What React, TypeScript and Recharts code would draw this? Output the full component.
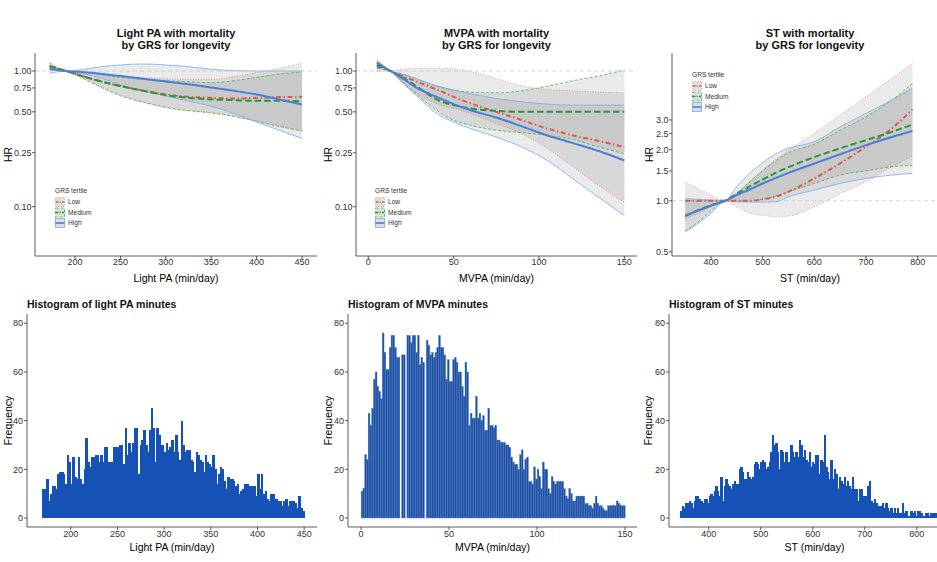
import React from 'react';
import { ComposedChart, BarChart, Bar, Line, Area, XAxis, YAxis, ReferenceLine, Legend } from 'recharts';

const FONT = '"Liberation Sans", Arial, Helvetica, sans-serif';

// ---- light PA spline, HR by GRS tertile ----
const lpaX = [172, 190, 210, 230, 250, 275, 300, 325, 350, 375, 400, 425, 450];
const lpaLow = [1.08, 1.0, 0.908, 0.834, 0.774, 0.715, 0.671, 0.645, 0.634, 0.627, 0.634, 0.642, 0.645];
const lpaLowLo = [1.01, 1.0, 0.882, 0.757, 0.664, 0.593, 0.535, 0.51, 0.494, 0.465, 0.43, 0.392, 0.361];
const lpaLowHi = [1.14, 1.0, 0.99, 0.95, 0.918, 0.892, 0.877, 0.867, 0.867, 0.908, 0.972, 1.046, 1.14];
const lpaMed = [1.09, 1.0, 0.908, 0.834, 0.774, 0.715, 0.664, 0.634, 0.617, 0.61, 0.603, 0.603, 0.596];
const lpaMedLo = [1.02, 1.0, 0.872, 0.75, 0.656, 0.589, 0.54, 0.51, 0.49, 0.462, 0.425, 0.39, 0.362];
const lpaMedHi = [1.153, 1.0, 0.983, 0.934, 0.898, 0.867, 0.848, 0.834, 0.82, 0.848, 0.898, 0.95, 0.983];
const lpaHigh = [1.04, 1.0, 0.977, 0.95, 0.918, 0.877, 0.838, 0.797, 0.757, 0.715, 0.671, 0.617, 0.567];
const lpaHighLo = [0.96, 1.0, 0.95, 0.882, 0.788, 0.715, 0.653, 0.6, 0.55, 0.486, 0.421, 0.366, 0.318];
const lpaHighHi = [1.1, 1.0, 1.03, 1.077, 1.108, 1.127, 1.108, 1.077, 1.03, 1.006, 1.0, 1.0, 1.0];

// ---- MVPA spline ----
const mvpaX = [5, 13, 20, 30, 40, 50, 60, 75, 90, 105, 120, 135, 150];
const mvpaLow = [1.08, 1.0, 0.918, 0.82, 0.731, 0.645, 0.576, 0.5, 0.434, 0.376, 0.335, 0.305, 0.275];
const mvpaLowLo = [0.99, 1.0, 0.81, 0.664, 0.576, 0.529, 0.486, 0.41, 0.345, 0.268, 0.196, 0.143, 0.108];
const mvpaLowHi = [1.15, 1.0, 1.03, 1.046, 1.05, 1.035, 0.99, 0.88, 0.774, 0.731, 0.715, 0.699, 0.69];
const mvpaMed = [1.11, 1.0, 0.898, 0.744, 0.617, 0.56, 0.529, 0.508, 0.5, 0.5, 0.5, 0.5, 0.5];
const mvpaMedLo = [1.04, 1.0, 0.834, 0.645, 0.514, 0.434, 0.398, 0.366, 0.351, 0.335, 0.312, 0.275, 0.246];
const mvpaMedHi = [1.17, 1.0, 0.95, 0.858, 0.774, 0.723, 0.699, 0.69, 0.715, 0.774, 0.848, 0.918, 1.017];
const mvpaHigh = [1.153, 1.0, 0.882, 0.731, 0.645, 0.57, 0.514, 0.454, 0.391, 0.335, 0.294, 0.257, 0.219];
const mvpaHighLo = [1.08, 1.0, 0.82, 0.627, 0.486, 0.421, 0.376, 0.326, 0.275, 0.219, 0.16, 0.117, 0.086];
const mvpaHighHi = [1.22, 1.0, 0.95, 0.858, 0.78, 0.723, 0.68, 0.627, 0.593, 0.57, 0.56, 0.56, 0.56];

// ---- ST spline ----
const stX = [350, 375, 400, 427, 450, 475, 500, 525, 550, 600, 650, 700, 750, 790];
const stLow = [1.0, 1.0, 1.0, 1.0, 1.0, 1.0, 1.02, 1.056, 1.13, 1.355, 1.662, 2.085, 2.67, 3.46];
const stLowLo = [0.78, 0.845, 0.92, 1.0, 0.922, 0.849, 0.823, 0.804, 0.812, 0.922, 1.105, 1.295, 1.588, 1.835];
const stLowHi = [1.28, 1.183, 1.08, 1.0, 1.105, 1.295, 1.517, 1.754, 1.99, 2.5, 3.2, 4.1, 5.28, 6.45];
const stMed = [0.812, 0.881, 0.939, 1.0, 1.1, 1.215, 1.335, 1.46, 1.58, 1.81, 2.04, 2.28, 2.55, 2.82];
const stMedLo = [0.66, 0.75, 0.87, 1.0, 1.0, 1.0, 1.02, 1.065, 1.13, 1.266, 1.418, 1.503, 1.588, 1.62];
const stMedHi = [1.0, 1.0, 1.0, 1.0, 1.115, 1.295, 1.503, 1.723, 1.92, 2.16, 2.61, 3.13, 3.93, 4.93];
const stHigh = [0.82, 0.875, 0.935, 1.0, 1.08, 1.165, 1.265, 1.36, 1.46, 1.66, 1.88, 2.13, 2.38, 2.58];
const stHighLo = [0.656, 0.735, 0.842, 1.0, 0.986, 0.982, 0.982, 0.986, 1.056, 1.156, 1.266, 1.355, 1.418, 1.45];
const stHighHi = [1.03, 1.02, 1.01, 1.0, 1.21, 1.45, 1.676, 1.886, 2.04, 2.23, 2.73, 3.28, 3.93, 4.61];

const hrTicks = [0.1, 0.25, 0.5, 0.75, 1.0];
const stHrTicks = [0.5, 1.0, 1.5, 2.0, 2.5, 3.0];
const lpaTicks = [200, 250, 300, 350, 400, 450];
const mvpaTicks = [0, 50, 100, 150];
const stTicks = [400, 500, 600, 700, 800];
const freqTicks = [0, 20, 40, 60, 80];

// ---- histograms (counts per bin) ----
const lpaBinStart = 170;
const lpaBinWidth = 2;
const lpaCounts = [
  12, 12, 16, 7, 10, 13, 13, 12, 18, 19, 19, 18, 14, 26, 23, 14, 25, 17, 16, 25,
  16, 14, 20, 33, 23, 21, 25, 25, 26, 26, 23, 26, 23, 29, 29, 23, 23, 23, 29, 29,
  29, 30, 30, 22, 37, 26, 31, 27, 31, 37, 37, 18, 30, 32, 36, 30, 27, 36, 45, 37,
  23, 37, 34, 30, 30, 27, 31,
  28, 29, 32, 27, 34, 27, 24, 40, 30, 27, 28, 28, 24, 23, 19, 27, 26, 24, 23, 19,
  26, 23, 22, 21, 26, 20, 14, 18, 21, 20, 15, 12, 17, 16, 16, 15, 13, 14, 10, 11,
  12, 14, 14, 13, 13, 13, 13, 9, 18, 12, 18, 10, 11, 8, 7, 10, 10, 8, 8, 7,
  7, 5, 7, 8, 5, 7, 7, 7, 6, 4, 9, 4, 3,
];

const mvpaBinStart = 0;
const mvpaBinWidth = 1;
const mvpaCounts = [
  11, 12, 26, 24, 43, 38, 45, 57, 60, 54, 52, 49, 76, 68, 61, 61, 70, 75, 75, 70,
  66, 66, 0, 67, 67, 0, 75, 75, 72, 75, 75, 68, 75, 63, 66, 64, 0, 73, 71, 67,
  68, 66, 68, 70, 75, 70, 70, 67, 57, 65, 56, 56, 65, 66, 64, 60, 60, 54, 50, 64,
  60, 38, 43, 41, 41, 50, 41, 43, 40, 42, 36, 36, 45, 38,
  38, 37, 38, 32, 32, 31, 31, 31, 30, 30, 29, 25, 23, 22, 22, 20, 26, 28, 20, 24,
  25, 15, 15, 14, 21, 16, 20, 17, 12, 23, 20, 20, 12, 10, 17, 15, 14, 15, 15, 15,
  15, 12, 9, 8, 12, 10, 7, 7, 9, 9, 9, 9, 9, 6, 6, 5, 5, 4, 6, 9,
  6, 5, 5, 4, 3, 3, 5, 5, 5, 5, 5, 7, 6, 5, 5, 5,
];

const stBinStart = 346;
const stBinWidth = 3.2;
const stCounts = [
  3, 5, 4, 6, 6, 7, 6, 4, 7, 9, 9, 8, 7, 6, 8, 8, 6, 9, 10, 9,
  11, 13, 11, 9, 17, 7, 13, 16, 14, 13, 12, 14, 15, 14, 14, 20, 21, 19, 16, 16,
  19, 17, 16, 17, 22, 23, 22, 20, 23, 24, 23, 20, 21, 23, 27, 34, 30, 31, 27, 20,
  28, 27, 23, 27, 23, 23, 30, 27, 25, 27, 25, 32, 30, 25, 28,
  24, 23, 27, 21, 23, 22, 26, 26, 18, 24, 23, 34, 21, 19, 16, 24, 16, 20, 18, 12,
  17, 15, 14, 17, 13, 15, 13, 12, 17, 12, 12, 7, 12, 12, 9, 9, 9, 13, 15, 7,
  6, 8, 6, 5, 5, 5, 6, 4, 6, 4, 3, 4, 2, 4, 2, 4, 2, 2, 6, 2,
  3, 1, 1, 3, 2, 3, 1, 3, 3, 2, 1, 1, 2, 2, 1, 2, 2, 2, 2,
];

const groups = [
  { key: 'low', name: 'Low', line: '#dc5a4e', lineDash: '5 2.5 1.5 2.5', edge: '#f3857b', edgeDash: '1 1.6' },
  { key: 'med', name: 'Medium', line: '#23993b', lineDash: '6.5 3', edge: '#3fba52', edgeDash: '3 2' },
  { key: 'high', name: 'High', line: '#4a7edb', lineDash: undefined, edge: '#7ea8f4', edgeDash: undefined },
];

function toRows(xs, low, lowLo, lowHi, med, medLo, medHi, high, highLo, highHi) {
  return xs.map((x, i) => ({
    x,
    low: low[i], lowCI: [lowLo[i], lowHi[i]],
    med: med[i], medCI: [medLo[i], medHi[i]],
    high: high[i], highCI: [highLo[i], highHi[i]],
  }));
}

function toBins(start, width, counts) {
  return counts.map((n, i) => ({ x: start + width * (i + 0.5), n }));
}

const tickStyle = { fontSize: 9, fill: '#333', fontFamily: FONT };
const axisStyle = { stroke: '#333', strokeWidth: 0.8 };
const titleStyle = { fontSize: 10.5, fill: '#000', fontFamily: FONT };

function GrsKey() {
  return (
    <svg width={60} height={44} style={{ display: 'block', overflow: 'visible' }}>
      <text x={0} y={6} fontSize={6.6} fill="#333" fontFamily={FONT}>GRS tertile</text>
      {groups.map((g, i) => (
        <g key={g.key} transform={`translate(0, ${10 + i * 10.5})`}>
          <rect x={0.5} y={0.5} width={9} height={9} fill="#dedede" stroke={g.edge}
            strokeWidth={0.8} strokeDasharray={g.edgeDash} />
          <line x1={0.5} x2={9.5} y1={5} y2={5} stroke={g.line} strokeWidth={1.6}
            strokeDasharray={g.lineDash ? '3 1.2 1 1.2' : undefined} />
          <text x={13} y={7.2} fontSize={6.6} fill="#333" fontFamily={FONT}>{g.name}</text>
        </g>
      ))}
    </svg>
  );
}

function HRPanel({ left, width, yAxisWidth, marginRight, rows, xDomain, xTicks, yDomain, yTicks, digits, title, xLabel, yLabelOffset, legendAt }) {
  const plotW = width - yAxisWidth - marginRight;
  return (
    <div style={{ position: 'absolute', left, top: 0, width, height: 290 }}>
      <div style={{ position: 'absolute', left: yAxisWidth, width: plotW, top: 27, textAlign: 'center', fontWeight: 'bold', fontSize: 11, lineHeight: '12px', color: '#111' }}>
        {title.map((t) => <div key={t}>{t}</div>)}
      </div>
      <ComposedChart width={width} height={290} data={rows} margin={{ top: 53, right: marginRight, bottom: 0, left: 0 }}>
        <XAxis type="number" dataKey="x" domain={xDomain} allowDataOverflow ticks={xTicks} interval={0}
          height={34} tickSize={3} tickMargin={0} tick={tickStyle} axisLine={axisStyle} tickLine={axisStyle}
          label={{ value: xLabel, position: 'insideBottom', offset: 8, ...titleStyle }} />
        <YAxis type="number" scale="log" domain={yDomain} allowDataOverflow ticks={yTicks} interval={0}
          width={yAxisWidth} tickSize={3} tickMargin={0.5} tick={tickStyle} axisLine={axisStyle} tickLine={axisStyle}
          tickFormatter={(v) => Number(v).toFixed(digits)}
          label={{ value: 'HR', angle: -90, position: 'insideLeft', offset: yLabelOffset, ...titleStyle, style: { textAnchor: 'middle' } }} />
        <ReferenceLine y={1} stroke="#c8c8c8" strokeWidth={0.8} strokeDasharray="4 3" />
        {groups.map((g) => (
          <Area key={g.key + 'CI'} type="monotone" dataKey={g.key + 'CI'} fill="#7a7a7a" fillOpacity={0.16}
            stroke={g.edge} strokeWidth={0.8} strokeDasharray={g.edgeDash} isAnimationActive={false} legendType="none" />
        ))}
        {groups.map((g) => (
          <Line key={g.key} type="monotone" dataKey={g.key} name={g.name} stroke={g.line} strokeWidth={2}
            strokeDasharray={g.lineDash} dot={false} isAnimationActive={false} />
        ))}
        <Legend layout="vertical" align="center" verticalAlign="middle" content={() => <GrsKey />}
          wrapperStyle={{ left: legendAt.left, top: legendAt.top, width: 60, height: 44 }} />
      </ComposedChart>
    </div>
  );
}

function HistPanel({ left, width, yAxisWidth, marginRight, rows, xDomain, xTicks, binPx, fill, stroke, strokeWidth, crisp, title, xLabel, yLabelOffset }) {
  // each bar is drawn centred on the position Recharts gives it, one bin wide
  const barShape = (p) => {
    const cx = p.x + p.width / 2;
    const h = Math.abs(p.height);
    if (!h) return <g />;
    const top = Math.min(p.y, p.y + p.height);
    return (
      <rect x={cx - binPx / 2} y={top} width={binPx} height={h} fill={fill}
        stroke={stroke} strokeWidth={strokeWidth} shapeRendering={crisp ? 'crispEdges' : undefined} />
    );
  };
  return (
    <div style={{ position: 'absolute', left, top: 290, width, height: 272 }}>
      <div style={{ position: 'absolute', left: yAxisWidth, top: 8, fontWeight: 'bold', fontSize: 10.5, lineHeight: '12px', color: '#111', whiteSpace: 'nowrap' }}>
        {title}
      </div>
      <BarChart width={width} height={272} data={rows} barCategoryGap={0} barGap={0}
        margin={{ top: 24, right: marginRight, bottom: 0, left: 0 }}>
        <XAxis type="number" dataKey="x" domain={xDomain} allowDataOverflow ticks={xTicks} interval={0}
          height={35} tickSize={3} tickMargin={1} tick={tickStyle} axisLine={axisStyle} tickLine={axisStyle}
          label={{ value: xLabel, position: 'insideBottom', offset: 11, ...titleStyle }} />
        <YAxis type="number" domain={[-3.7, 83.8]} allowDataOverflow ticks={freqTicks} interval={0}
          width={yAxisWidth} tickSize={3} tickMargin={1} tick={tickStyle} axisLine={axisStyle} tickLine={axisStyle}
          label={{ value: 'Frequency', angle: -90, position: 'insideLeft', offset: yLabelOffset, ...titleStyle, style: { textAnchor: 'middle' } }} />
        <Bar dataKey="n" fill={fill} shape={barShape} isAnimationActive={false} />
      </BarChart>
    </div>
  );
}

export default function App() {
  return (
    <div style={{ position: 'absolute', left: 0, top: 0, width: 937, height: 562, overflow: 'hidden', background: '#fff', fontFamily: FONT }}>
      <HRPanel left={0} width={320} yAxisWidth={35} marginRight={3}
        rows={toRows(lpaX, lpaLow, lpaLowLo, lpaLowHi, lpaMed, lpaMedLo, lpaMedHi, lpaHigh, lpaHighLo, lpaHighHi)}
        xDomain={[155.9, 466.5]} xTicks={lpaTicks} yDomain={[0.0433, 1.357]} yTicks={hrTicks} digits={2}
        title={['Light PA with mortality', 'by GRS for longevity']} xLabel="Light PA (min/day)" yLabelOffset={8}
        legendAt={{ left: 55, top: 187 }} />
      <HRPanel left={320} width={320} yAxisWidth={36} marginRight={3}
        rows={toRows(mvpaX, mvpaLow, mvpaLowLo, mvpaLowHi, mvpaMed, mvpaMedLo, mvpaMedHi, mvpaHigh, mvpaHighLo, mvpaHighHi)}
        xDomain={[-7.2, 157.4]} xTicks={mvpaTicks} yDomain={[0.0433, 1.357]} yTicks={hrTicks} digits={2}
        title={['MVPA with mortality', 'by GRS for longevity']} xLabel="MVPA (min/day)" yLabelOffset={8}
        legendAt={{ left: 55, top: 187 }} />
      <HRPanel left={630} width={318} yAxisWidth={42} marginRight={0}
        rows={toRows(stX, stLow, stLowLo, stLowHi, stMed, stMedLo, stMedHi, stHigh, stHighLo, stHighHi)}
        xDomain={[324.5, 858.7]} xTicks={stTicks} yDomain={[0.472, 7.45]} yTicks={stHrTicks} digits={1}
        title={['ST with mortality', 'by GRS for longevity']} xLabel="ST (min/day)" yLabelOffset={19}
        legendAt={{ left: 62, top: 71 }} />

      <HistPanel left={0} width={320} yAxisWidth={27} marginRight={3}
        rows={toBins(lpaBinStart, lpaBinWidth, lpaCounts)} xDomain={[153.2, 463.7]} xTicks={lpaTicks}
        binPx={2.5} fill="#1651b6" stroke="none" strokeWidth={0} crisp title="Histogram of light PA minutes"
        xLabel="Light PA (min/day)" yLabelOffset={8} />
      <HistPanel left={320} width={320} yAxisWidth={28} marginRight={3}
        rows={toBins(mvpaBinStart, mvpaBinWidth, mvpaCounts)} xDomain={[-7.4, 156.8]} xTicks={mvpaTicks}
        binPx={1.76} fill="#22509c" stroke="#3a72d0" strokeWidth={0.35} crisp={false} title="Histogram of MVPA minutes"
        xLabel="MVPA (min/day)" yLabelOffset={8} />
      <HistPanel left={630} width={330} yAxisWidth={39} marginRight={0}
        rows={toBins(stBinStart, stBinWidth, stCounts)} xDomain={[323.7, 883]} xTicks={stTicks}
        binPx={2.3} fill="#1651b6" stroke="none" strokeWidth={0} crisp title="Histogram of ST minutes"
        xLabel="ST (min/day)" yLabelOffset={18} />
    </div>
  );
}
